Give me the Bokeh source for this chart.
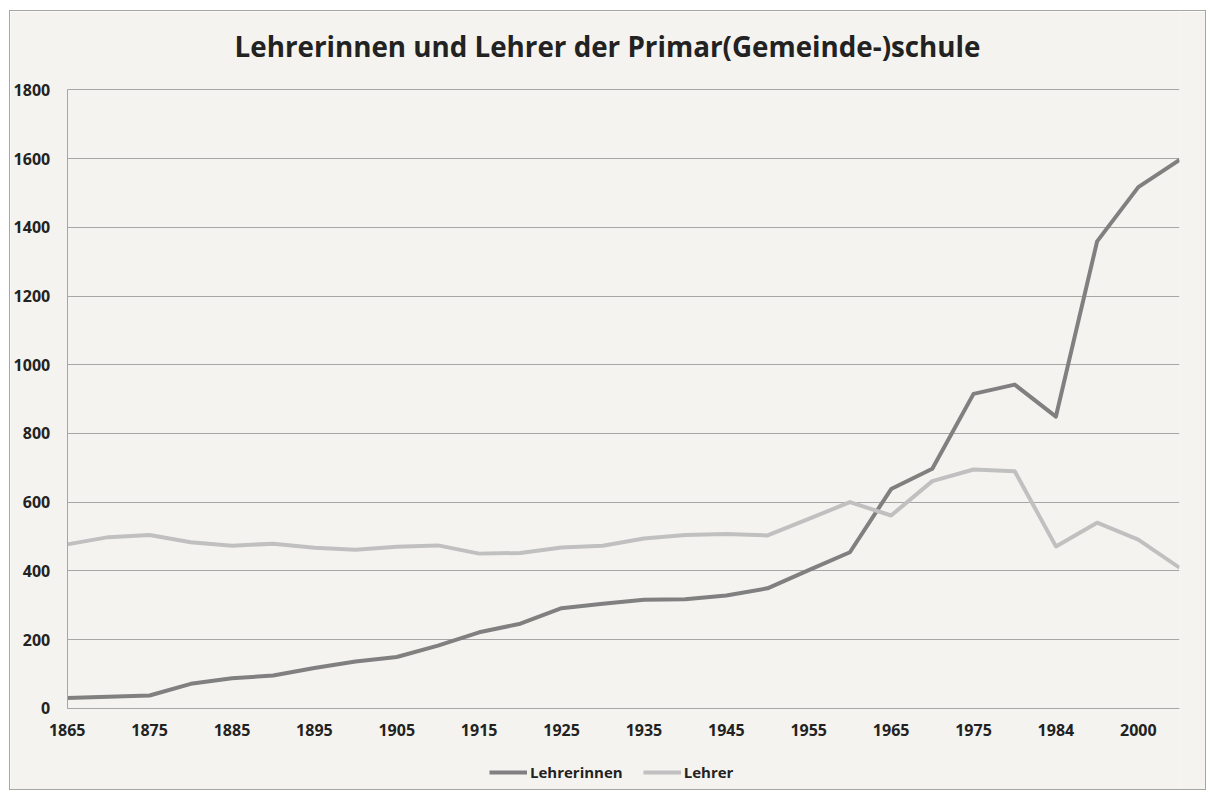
from bokeh.plotting import figure
from bokeh.models import Range1d, FixedTicker, Legend, LegendItem, Label
from bokeh.embed import file_html
from bokeh.resources import INLINE

# ---- data ----
years = ["1865", "1870", "1875", "1880", "1885", "1890", "1895", "1900", "1905", "1910",
         "1915", "1920", "1925", "1930", "1935", "1940", "1945", "1950", "1955", "1960",
         "1965", "1970", "1975", "1980", "1984", "1990", "2000", "2005"]
lehrerinnen = [30, 33, 37, 71, 87, 95, 117, 136, 149, 182,
               221, 246, 291, 304, 316, 317, 328, 349, 402, 454,
               638, 697, 915, 942, 849, 1359, 1517, 1596]
lehrer = [477, 498, 504, 483, 473, 479, 467, 461, 470, 474,
          450, 452, 468, 473, 494, 504, 507, 503, 551, 600,
          561, 661, 695, 690, 471, 540, 491, 409]
y_ticks = [0, 200, 400, 600, 800, 1000, 1200, 1400, 1600, 1800]
title_text = "Lehrerinnen und Lehrer der Primar(Gemeinde-)schule"

BG = "#f4f3ef"
FONT = "Open Sans"
TXT = "#222222"
GRID = "#a6a6a6"

# ---- layout (pixels, canvas coordinates) ----
W, H = 1197, 780
B_RIGHT = 28
X_FIRST_PX = 56.7                           # canvas column of the first category
Y_TOP_PX, Y_ZERO_PX = 78.4, 696.7           # canvas rows of the top tick and of zero
n = len(years)
xmax = n - 1
x_per_px = xmax / ((W - B_RIGHT) - X_FIRST_PX)
x_start = -X_FIRST_PX * x_per_px
ymax = y_ticks[-1]
y_per_px = ymax / (Y_ZERO_PX - Y_TOP_PX)
y_end = ymax + Y_TOP_PX * y_per_px
y_start = -(H - Y_ZERO_PX) * y_per_px

x = list(range(n))

p = figure(width=W, height=H, output_backend="svg", toolbar_location=None, title=None,
           x_range=Range1d(x_start, xmax), y_range=Range1d(y_start, y_end),
           min_border_left=0, min_border_right=B_RIGHT, min_border_top=0, min_border_bottom=0)
p.styles = {"margin-left": "9px", "margin-top": "10px", "border": "1px solid #a6a6a6"}

p.background_fill_color = BG
p.border_fill_color = BG
p.outline_line_color = None

# axes
p.xaxis.fixed_location = 0
p.xaxis.bounds = (0, xmax)
p.xaxis.ticker = FixedTicker(ticks=x[::2])
p.xaxis.major_label_overrides = {i: years[i] for i in x}
p.yaxis.fixed_location = 0
p.yaxis.bounds = (0, ymax)
p.yaxis.ticker = FixedTicker(ticks=y_ticks)
for ax in (p.xaxis, p.yaxis):
    ax.major_tick_line_color = None
    ax.minor_tick_line_color = None
    ax.major_label_text_font = FONT
    ax.major_label_text_font_style = "bold"
    ax.major_label_text_font_size = "16px"
    ax.major_label_text_color = TXT
    ax.axis_line_color = GRID
    ax.axis_line_width = 1
p.xaxis.major_label_standoff = 10
p.yaxis.major_label_standoff = 11

p.xgrid.grid_line_color = None
ygrid = p.ygrid[0]
if "cross_bounds" in ygrid.properties():
    ygrid.cross_bounds = (0, xmax)
    ygrid.grid_line_color = GRID
    ygrid.grid_line_width = 1
else:
    ygrid.grid_line_color = None
    p.segment(x0=[0] * len(y_ticks), x1=[xmax] * len(y_ticks), y0=y_ticks, y1=y_ticks,
              line_color=GRID, line_width=1, level="underlay")

r1 = p.line(x, lehrerinnen, line_color="#808080", line_width=4, line_join="round")
r2 = p.line(x, lehrer, line_color="#c0c0c0", line_width=4, line_join="round")

title = Label(x=597, y=H - 34, x_units="screen", y_units="screen", text=title_text,
              text_align="center", text_baseline="middle", text_font=FONT,
              text_font_style="bold", text_font_size="27.75px", text_color=TXT)
p.add_layout(title)

legend = Legend(items=[LegendItem(label="Lehrerinnen", renderers=[r1]),
                       LegendItem(label="Lehrer", renderers=[r2])],
                location=(479, 9), orientation="horizontal")
legend.background_fill_alpha = 0
legend.border_line_color = None
legend.padding = 0
legend.margin = 0
legend.spacing = 20
legend.glyph_width = 38
legend.label_standoff = 3
legend.label_text_font = FONT
legend.label_text_font_style = "bold"
legend.label_text_font_size = "15px"
legend.label_text_color = TXT
p.add_layout(legend, "center")

open("out.html", "w").write(file_html(p, INLINE))
